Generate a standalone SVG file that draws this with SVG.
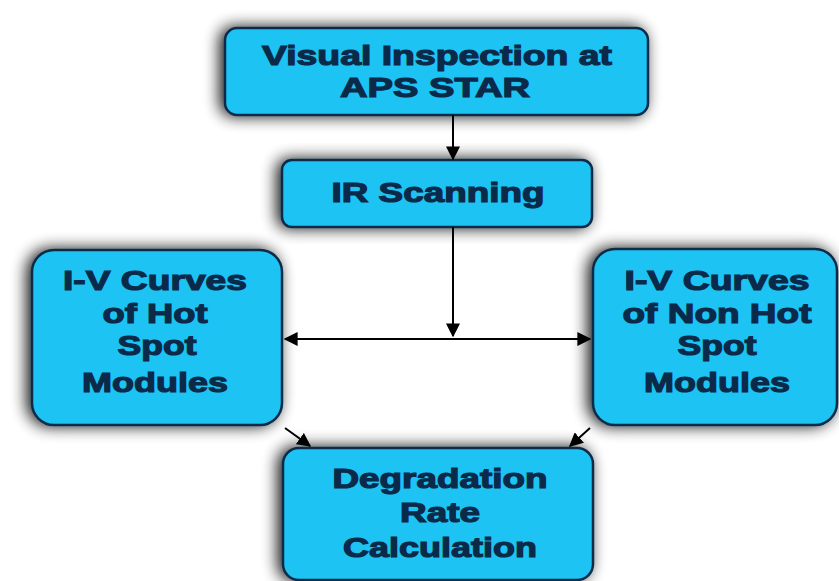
<svg xmlns="http://www.w3.org/2000/svg" width="839" height="581" viewBox="0 0 839 581">
<style>
.box{fill:#1ec3f3;stroke:#0d2c48;stroke-width:2.5}
.t{font-family:"Liberation Sans",Arial,sans-serif;font-weight:bold;font-size:28px;fill:#0b2a4a;stroke:#0b2a4a;stroke-width:1.2;text-anchor:middle}
.c{stroke:#000;stroke-width:2;fill:none}
</style>
<defs>
<filter id="sh" x="-20%" y="-25%" width="140%" height="150%">
<feGaussianBlur in="SourceAlpha" stdDeviation="8"/>
<feOffset dx="-4" dy="0"/>
<feComponentTransfer><feFuncA type="linear" slope="0.95"/></feComponentTransfer>
<feMerge><feMergeNode/><feMergeNode in="SourceGraphic"/></feMerge>
</filter>
<marker id="ah" viewBox="0 0 10 10" refX="9" refY="5" markerWidth="7" markerHeight="7" orient="auto-start-reverse">
<path d="M0,0 L10,5 L0,10 z" fill="#000"/>
</marker>
</defs>
<rect width="839" height="581" fill="#fff"/>
<g id="n1"><rect class="box" x="225" y="28" width="423" height="87" rx="12" filter="url(#sh)"/>
<text class="t" x="437" y="65" textLength="350" lengthAdjust="spacingAndGlyphs">Visual Inspection at</text><text class="t" x="435" y="97" textLength="190" lengthAdjust="spacingAndGlyphs">APS STAR</text></g>
<g id="n2"><rect class="box" x="282" y="160" width="310" height="67" rx="10" filter="url(#sh)"/>
<text class="t" x="438" y="202" textLength="213" lengthAdjust="spacingAndGlyphs">IR Scanning</text></g>
<g id="n3"><rect class="box" x="32" y="250" width="250" height="175" rx="22" filter="url(#sh)"/>
<text class="t" x="155" y="290" textLength="184" lengthAdjust="spacingAndGlyphs">I-V Curves</text><text class="t" x="155" y="323" textLength="105" lengthAdjust="spacingAndGlyphs">of Hot</text><text class="t" x="157" y="355" textLength="79" lengthAdjust="spacingAndGlyphs">Spot</text><text class="t" x="155" y="392" textLength="146" lengthAdjust="spacingAndGlyphs">Modules</text></g>
<g id="n4"><rect class="box" x="593" y="249" width="244" height="176" rx="22" filter="url(#sh)"/>
<text class="t" x="717" y="290" textLength="185" lengthAdjust="spacingAndGlyphs">I-V Curves</text><text class="t" x="717" y="323" textLength="189" lengthAdjust="spacingAndGlyphs">of Non Hot</text><text class="t" x="717" y="355" textLength="79" lengthAdjust="spacingAndGlyphs">Spot</text><text class="t" x="717" y="392" textLength="146" lengthAdjust="spacingAndGlyphs">Modules</text></g>
<g id="n5"><rect class="box" x="283" y="448" width="310" height="132" rx="16" filter="url(#sh)"/>
<text class="t" x="440" y="488" textLength="215" lengthAdjust="spacingAndGlyphs">Degradation</text><text class="t" x="440" y="522" textLength="80" lengthAdjust="spacingAndGlyphs">Rate</text><text class="t" x="440" y="557" textLength="194" lengthAdjust="spacingAndGlyphs">Calculation</text></g>
<g id="connectors">
<line class="c" x1="453" y1="115" x2="453" y2="159" marker-end="url(#ah)"/>
<line class="c" x1="453" y1="227" x2="453" y2="336" marker-end="url(#ah)"/>
<line class="c" x1="285" y1="339" x2="590" y2="339" marker-start="url(#ah)" marker-end="url(#ah)"/>
<line class="c" x1="285" y1="428" x2="310" y2="446" marker-end="url(#ah)"/>
<line class="c" x1="590" y1="428" x2="570" y2="446" marker-end="url(#ah)"/>
</g>
</svg>
